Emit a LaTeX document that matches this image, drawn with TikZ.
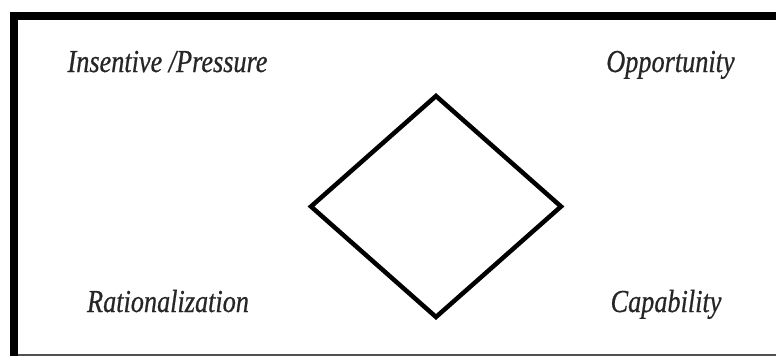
\documentclass[tikz,border=0pt]{standalone}
\usepackage{fontspec}
\setmainfont{Liberation Serif}
\newfontfamily\lblfont[FakeStretch=0.82,FakeBold=0.6]{Liberation Serif}
\usepackage{tikz}
\usetikzlibrary{positioning}
\definecolor{edge}{RGB}{80,80,80}

\begin{document}
\begin{tikzpicture}[x=1pt, y=-1pt,
  every node/.style={font=\lblfont\itshape\fontsize{32}{34}\selectfont, inner sep=0pt},
  corner/.style={anchor=base, text=black!85}]
\useasboundingbox (0,0) rectangle (776,356);
% ---- frame: heavy top and left, thin bottom
\fill[black] (10,12) rectangle (776,20);
\fill[black] (10,12) rectangle (18,356);
\fill[edge] (18,353.5) rectangle (776,356);
% ---- the four labels
\node[corner] (press) at (167.5,72) {Insentive /Pressure};
\node[corner] (opp) at (670.5,72) {Opportunity};
\node[corner] (rat) at (168,312) {Rationalization};
\node[corner] (cap) at (666,312) {Capability};
% ---- the diamond
\coordinate (top) at (436,96);
\coordinate (right) at (561,206.5);
\coordinate (bottom) at (436,317);
\coordinate (left) at (311,206.5);
\draw[line width=4.5pt] (top) -- (right) -- (bottom) -- (left) -- cycle;
\end{tikzpicture}
\end{document}
